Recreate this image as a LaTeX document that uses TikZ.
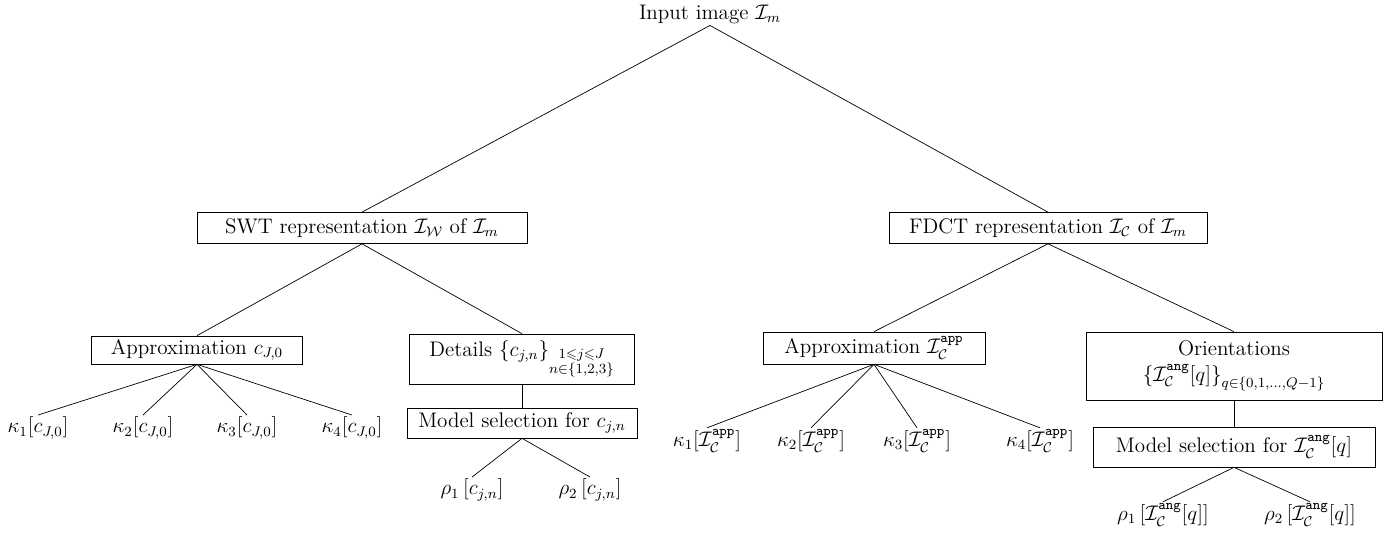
\documentclass[tikz,border=0pt,12pt]{standalone}
\usepackage{amsmath}
\usepackage{amssymb}
\usetikzlibrary{positioning}
\newcommand{\Ic}{\mathcal{I}_{\mathcal{C}}}
\tikzstyle{caja} = [draw, rectangle, inner xsep=4pt, inner ysep=2pt]
\tikzstyle{hoja} = [inner sep=1pt]

\begin{document}
\begin{tikzpicture}[x=0.02cm, y=-0.02cm]
	\useasboundingbox (0,0) rectangle (1390,533);
	\node[hoja] (in) at (710,14) {Input image $\mathcal{I}_m$};
	\node[caja, minimum width=6.6cm, minimum height=0.62cm] (swt) at (362,228) {SWT representation $\mathcal{I}_{\mathcal{W}}$ of $\mathcal{I}_m$};
	\node[caja, minimum width=6.36cm, minimum height=0.62cm] (fdct) at (1048,228) {FDCT representation $\Ic$ of $\mathcal{I}_m$};
	% rama SWT
	\node[caja, minimum width=4.22cm, minimum height=0.56cm] (appA) at (197,350) {Approximation $c_{J,0}$};
	\node[caja, minimum width=4.5cm, minimum height=1cm] (det) at (522,359) {Details $\left\{c_{j,n}\right\}_{\substack{1\leqslant j\leqslant J\\ n\in\{1,2,3\}}}$};
	\node[caja, minimum width=4.6cm, minimum height=0.6cm] (msA) at (522,423) {Model selection for $c_{j,n}$};
	\foreach \i/\x in {1/38,2/143,3/247,4/352}
		\node[hoja] (kA\i) at (\x,428) {$\kappa_{\i}[c_{J,0}]$};
	\node[hoja] (rA1) at (472,490) {$\rho_1\left[c_{j,n}\right]$};
	\node[hoja] (rA2) at (590,490) {$\rho_2\left[c_{j,n}\right]$};
	% rama FDCT
	\node[caja, minimum width=4.44cm, minimum height=0.64cm] (appC) at (874,348) {Approximation $\Ic^{\mathtt{app}}$};
	\node[caja, align=center, minimum width=5.92cm, minimum height=1.36cm] (ori) at (1234,366) {Orientations\\ $\left\{\Ic^{\mathtt{ang}}[q]\right\}_{q\in\{0,1,\ldots,Q-1\}}$};
	\node[caja, minimum width=5.64cm, minimum height=0.8cm] (msC) at (1234,447) {Model selection for $\Ic^{\mathtt{ang}}[q]$};
	\foreach \i/\x in {1/707,2/811,3/917,4/1040}
		\node[hoja] (kC\i) at (\x,441) {$\kappa_{\i}[\Ic^{\mathtt{app}}]$};
	\node[hoja] (rC1) at (1163,515) {$\rho_1\left[\Ic^{\mathtt{ang}}[q]\right]$};
	\node[hoja] (rC2) at (1310,515) {$\rho_2\left[\Ic^{\mathtt{ang}}[q]\right]$};
	% conexiones
	\draw (in.south) -- (swt.north);
	\draw (in.south) -- (fdct.north);
	\draw (swt.south) -- (appA.north);
	\draw (swt.south) -- (det.north);
	\draw (det.south) -- (msA.north);
	\draw (fdct.south) -- (appC.north);
	\draw (fdct.south) -- (ori.north);
	\draw (ori.south) -- (msC.north);
	\foreach \i in {1,...,4} {
		\draw (appA.south) -- (kA\i.north);
		\draw (appC.south) -- (kC\i.north);
	}
	\draw (msA.south) -- (rA1.north);
	\draw (msA.south) -- (rA2.north);
	\draw (msC.south) -- (rC1.north);
	\draw (msC.south) -- (rC2.north);
\end{tikzpicture}
\end{document}
